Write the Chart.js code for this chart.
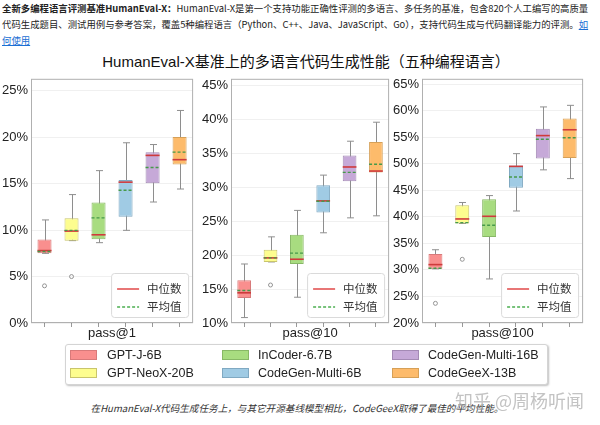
<!DOCTYPE html>
<html>
<head>
<meta charset="utf-8">
<script src="https://cdn.jsdelivr.net/npm/chart.js@4"></script>
<style>
  html, body { margin: 0; padding: 0; background: #fff; }
  body { position: relative; width: 600px; height: 425px; overflow: hidden;
         font-family: "Liberation Sans", "Noto Sans CJK SC", sans-serif; color: #222; }
  #intro { position: absolute; left: 2px; top: 0; font-family: "Noto Sans CJK SC", sans-serif;
           font-size: 9.4px; line-height: 16px; white-space: nowrap; color: #222; }
  #intro b { font-weight: bold; }
  #intro a { color: #1a6fd4; text-decoration: underline; }
  #title { position: absolute; left: 0; width: 612px; top: 52px; text-align: center;
           font-size: 15px; line-height: 20px; color: #111; white-space: nowrap; }
  canvas { position: absolute; }
  #legend { position: absolute; left: 65px; top: 344px; width: 483px; height: 41px;
            border: 1px solid #d4d4d4; border-radius: 3px; background: #fff;
            box-shadow: 1px 1px 2px rgba(0,0,0,0.25); box-sizing: border-box; }
  .sw { position: absolute; width: 27px; height: 10px; box-sizing: border-box; border: 1px solid; }
  .lt { position: absolute; font-size: 12.5px; line-height: 14px; white-space: nowrap; color: #222; }
  #caption { position: absolute; left: 0; width: 594px; top: 401px; text-align: center;
             font-family: "Noto Sans CJK SC", sans-serif; font-style: italic; font-size: 9.6px;
             line-height: 14px; color: #333; white-space: nowrap; }
  #mark { position: absolute; left: 455px; top: 389px; font-family: "Noto Sans CJK SC", sans-serif;
          font-size: 18px; line-height: 22px; color: rgba(175,175,175,0.75); white-space: nowrap; }
</style>
</head>
<body>
<div id="intro"><b>全新多编程语言评测基准HumanEval-X：</b>HumanEval-X是第一个支持功能正确性评测的多语言、多任务的基准，包含820个人工编写的高质量<br>代码生成题目、测试用例与参考答案，覆盖5种编程语言（Python、C++、Java、JavaScript、Go），支持代码生成与代码翻译能力的评测。<a>如</a><br><a>何使用</a></div>
<div id="title">HumanEval-X基准上的多语言代码生成性能（五种编程语言）</div>
<canvas id="c1" width="198" height="277" style="left:0;top:68px"></canvas>
<canvas id="c2" width="194" height="277" style="left:200px;top:68px"></canvas>
<canvas id="c3" width="197" height="277" style="left:391px;top:68px"></canvas>
<div id="legend"></div>
<div id="caption">在HumanEval-X代码生成任务上，与其它开源基线模型相比，CodeGeeX取得了最佳的平均性能。</div>
<div id="mark">知乎 @周杨听闻</div>
<script>
const models = ['GPT-J-6B', 'GPT-NeoX-20B', 'InCoder-6.7B', 'CodeGen-Multi-6B', 'CodeGen-Multi-16B', 'CodeGeeX-13B'];
const panelLabels = ['pass@1', 'pass@10', 'pass@100'];
const medianLabel = '中位数';
const meanLabel = '平均值';

// pass@1 (%)
const pass1Low    = [7.5, 8.87, 8.65, 9.98, 13.03, 14.43];
const pass1Q1     = [7.5, 8.87, 9.03, 11.44, 15.05, 17.06];
const pass1Median = [7.8, 9.9, 9.5, 15.17, 18.05, 17.59];
const pass1Mean   = [7.7, 9.98, 11.32, 14.3, 16.75, 18.4];
const pass1Q3     = [9.0, 11.28, 12.98, 15.4, 18.4, 20.04];
const pass1High   = [11.1, 13.83, 16.41, 19.41, 19.22, 22.89];
const pass1Out    = [4.0, 5.0, null, null, null, null];

// pass@10 (%)
const pass10Low    = [10.8, 19.0, 13.8, 23.3, 25.5, 25.8];
const pass10Q1     = [13.7, 19.0, 18.7, 26.3, 30.9, 32.2];
const pass10Median = [14.45, 19.6, 19.4, 28.0, 33.0, 32.4];
const pass10Mean   = [14.8, 19.6, 20.3, 27.95, 32.2, 33.4];
const pass10Q3     = [16.3, 20.8, 23.0, 30.3, 34.7, 36.7];
const pass10High   = [18.7, 22.7, 26.6, 31.8, 36.8, 39.6];
const pass10Out    = [null, 15.6, null, null, null, null];

// pass@100 (%)
const pass100Low    = [30.2, 38.75, 28.3, 41.1, 48.85, 47.2];
const pass100Q1     = [30.2, 38.75, 36.2, 45.5, 51.0, 51.1];
const pass100Median = [31.0, 39.6, 40.1, 49.5, 55.3, 56.4];
const pass100Mean   = [30.3, 38.9, 38.4, 47.5, 54.6, 54.9];
const pass100Q3     = [33.0, 42.2, 43.3, 49.65, 56.6, 58.5];
const pass100High   = [33.8, 42.7, 44.0, 51.9, 60.7, 61.0];
const pass100Out    = [23.7, 32.0, null, null, null, null];

const yMins = [0, 10, 20];
const yMaxs = [26.3, 46, 66];

const fills   = ['#f98f8e', '#fdfd8f', '#a8dc80', '#a0cbe4', '#c6a9d8', '#fdbb6b'];
const borders = ['#d87a7a', '#c9c56c', '#88b866', '#80a9c2', '#a48ab5', '#d6a057'];
const FONT = '"Liberation Sans", "Noto Sans CJK SC", sans-serif';
Chart.defaults.font.family = FONT;

const panels = [
  { id: 'c1', low: pass1Low, q1: pass1Q1, median: pass1Median, mean: pass1Mean, q3: pass1Q3, high: pass1High, out: pass1Out },
  { id: 'c2', low: pass10Low, q1: pass10Q1, median: pass10Median, mean: pass10Mean, q3: pass10Q3, high: pass10High, out: pass10Out },
  { id: 'c3', low: pass100Low, q1: pass100Q1, median: pass100Median, mean: pass100Mean, q3: pass100Q3, high: pass100High, out: pass100Out },
];

function boxPlugin(p) {
  return {
    id: 'boxParts',
    beforeDatasetsDraw(chart) {
      const { ctx, scales: { y } } = chart;
      const bars = chart.getDatasetMeta(0).data;
      ctx.save();
      ctx.strokeStyle = '#8e8e8e';
      ctx.lineWidth = 1;
      p.low.forEach((lo, i) => {
        const cx = Math.round(bars[i].x) + 0.5;
        const half = bars[i].width / 4;
        const yl = y.getPixelForValue(lo);
        const yh = y.getPixelForValue(p.high[i]);
        ctx.beginPath();
        ctx.moveTo(cx, yl); ctx.lineTo(cx, yh);
        ctx.moveTo(cx - half, yl); ctx.lineTo(cx + half, yl);
        ctx.moveTo(cx - half, yh); ctx.lineTo(cx + half, yh);
        ctx.stroke();
      });
      ctx.restore();
    },
    afterDatasetsDraw(chart) {
      const { ctx, scales: { y } } = chart;
      const bars = chart.getDatasetMeta(0).data;
      ctx.save();
      p.median.forEach((m, i) => {
        const half = bars[i].width / 2;
        const ym = y.getPixelForValue(m);
        ctx.strokeStyle = '#cf3a3c';
        ctx.lineWidth = 1.6;
        ctx.setLineDash([]);
        ctx.beginPath();
        ctx.moveTo(bars[i].x - half, ym); ctx.lineTo(bars[i].x + half, ym);
        ctx.stroke();
        const yv = y.getPixelForValue(p.mean[i]);
        ctx.strokeStyle = '#46994a';
        ctx.lineWidth = 1.4;
        ctx.setLineDash([3, 2]);
        ctx.beginPath();
        ctx.moveTo(bars[i].x - half, yv); ctx.lineTo(bars[i].x + half, yv);
        ctx.stroke();
      });
      ctx.restore();
    },
    afterDraw(chart) {
      const { ctx, chartArea: a } = chart;
      ctx.save();
      // frame
      ctx.strokeStyle = '#b0b0b0';
      ctx.lineWidth = 1;
      ctx.strokeRect(a.left + 0.5, a.top + 0.5, a.width - 1, a.height - 1);
      // inner legend
      const lx = a.right - 82, ly = a.bottom - 50;
      ctx.fillStyle = 'rgba(255,255,255,0.9)';
      ctx.strokeStyle = '#dadada';
      ctx.beginPath();
      ctx.roundRect(lx + 0.5, ly + 0.5, 77, 44, 3);
      ctx.fill();
      ctx.stroke();
      const rows = [[medianLabel, '#e04848', []], [meanLabel, '#4caf50', [3, 2]]];
      rows.forEach(([txt, col, dash], r) => {
        const ry = a.bottom - 34 + r * 18;
        ctx.strokeStyle = col;
        ctx.lineWidth = 1.5;
        ctx.setLineDash(dash);
        ctx.beginPath();
        ctx.moveTo(lx + 6, ry); ctx.lineTo(lx + 28, ry);
        ctx.stroke();
        ctx.setLineDash([]);
        ctx.fillStyle = '#333';
        ctx.font = '11.5px "Noto Sans CJK SC", sans-serif';
        ctx.textBaseline = 'middle';
        ctx.fillText(txt, lx + 36, ry);
      });
      ctx.restore();
    }
  };
}

panels.forEach((p, k) => {
  new Chart(document.getElementById(p.id), {
    type: 'bar',
    data: {
      labels: models,
      datasets: [
        {
          data: p.q1.map((v, i) => [v, p.q3[i]]),
          backgroundColor: fills,
          borderColor: borders,
          borderWidth: 1,
          borderSkipped: false,
          barPercentage: 0.52,
          categoryPercentage: 1,
          order: 2
        },
        {
          type: 'line',
          data: p.out,
          showLine: false,
          pointStyle: 'circle',
          pointRadius: 2,
          pointBackgroundColor: 'rgba(255,255,255,0)',
          pointBorderColor: '#8a8a8a',
          pointBorderWidth: 0.9,
          order: 1
        }
      ]
    },
    options: {
      responsive: false,
      animation: false,
      layout: { padding: { top: 5, right: 4, left: 0, bottom: 0 } },
      scales: {
        x: {
          offset: true,
          grid: { offset: false, drawOnChartArea: false, drawTicks: true, tickLength: 4, color: '#9a9a9a' },
          border: { display: false },
          ticks: { display: false },
          title: { display: true, text: panelLabels[k], color: '#222', font: { size: 13 }, padding: { top: 0, bottom: 4 } },
          afterFit: s => { s.height = 22; }
        },
        y: {
          min: yMins[k],
          max: yMaxs[k],
          ticks: { stepSize: 5, includeBounds: false, color: '#222', font: { size: 13 }, padding: 3, callback: v => v + '%' },
          grid: { color: 'rgba(0,0,0,0.06)', drawTicks: false },
          border: { display: false },
          afterBuildTicks: s => { s.ticks = s.ticks.filter(t => Math.abs(t.value / 5 - Math.round(t.value / 5)) < 1e-6); },
          afterFit: s => { s.width = 31; }
        }
      },
      plugins: {
        legend: { display: false },
        tooltip: { enabled: false }
      }
    },
    plugins: [boxPlugin(p)]
  });
});

// bottom legend
const legend = document.getElementById('legend');
const colX = [4, 156, 326];
const textX = [41, 192, 362];
const rowY = [5, 23];
models.forEach((m, i) => {
  const col = Math.floor(i / 2), row = i % 2;
  const sw = document.createElement('div');
  sw.className = 'sw';
  sw.style.left = colX[col] + 'px';
  sw.style.top = rowY[row] + 'px';
  sw.style.background = fills[i];
  sw.style.borderColor = borders[i];
  legend.appendChild(sw);
  const t = document.createElement('div');
  t.className = 'lt';
  t.style.left = textX[col] + 'px';
  t.style.top = (rowY[row] - 2) + 'px';
  t.textContent = m;
  legend.appendChild(t);
});
</script>
</body>
</html>
